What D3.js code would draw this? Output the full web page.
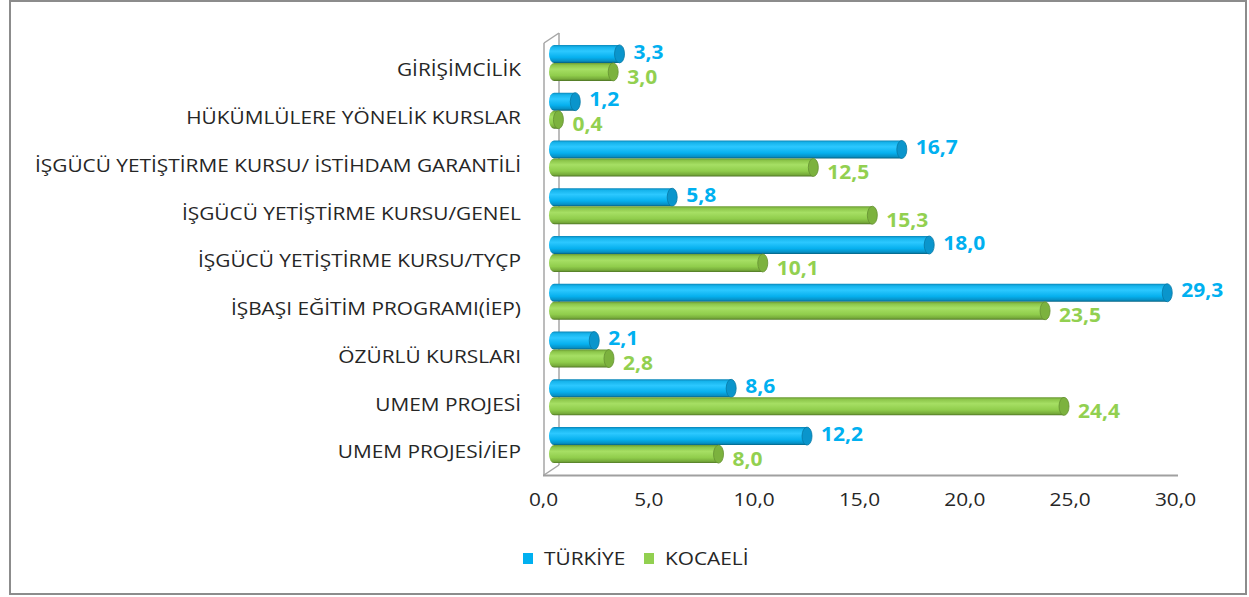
<!DOCTYPE html>
<html><head><meta charset="utf-8">
<script src="https://cdn.jsdelivr.net/npm/d3@7"></script>
<style>body{margin:0;background:#fff}svg{display:block}</style>
</head><body>
<script>
const categories = ["GİRİŞİMCİLİK","HÜKÜMLÜLERE YÖNELİK KURSLAR","İŞGÜCÜ YETİŞTİRME KURSU/ İSTİHDAM GARANTİLİ","İŞGÜCÜ YETİŞTİRME KURSU/GENEL","İŞGÜCÜ YETİŞTİRME KURSU/TYÇP","İŞBAŞI EĞİTİM PROGRAMI(İEP)","ÖZÜRLÜ KURSLARI","UMEM PROJESİ","UMEM PROJESİ/İEP"];
const turkiye = [3.3,1.2,16.7,5.8,18.0,29.3,2.1,8.6,12.2];
const kocaeli = [3.0,0.4,12.5,15.3,10.1,23.5,2.8,24.4,8.0];
const seriesNames = ["TÜRKİYE","KOCAELİ"];
const xTicks = [0,5,10,15,20,25,30];

const W=1249,H=597;
const svg=d3.select("body").append("svg").attr("width",W).attr("height",H);
const loc=d3.formatLocale({decimal:",",thousands:".",grouping:[3],currency:["",""]});
const fmt=loc.format(".1f");
const FONT="'Open Sans', sans-serif";

// border
svg.append("rect").attr("x",10).attr("y",1).attr("width",1236).attr("height",593)
  .attr("fill","#fff").attr("stroke","#8c8c8c").attr("stroke-width",2);

const x=d3.scaleLinear().domain([0,30]).range([543,1175]);
const y=d3.scaleBand().domain(categories).range([39,469]).paddingInner(0).paddingOuter(0);
const DX=7, BH=18, CAP=5;

const defs=svg.append("defs");
function grad(id,stops){
  const g=defs.append("linearGradient").attr("id",id).attr("x1",0).attr("y1",0).attr("x2",0).attr("y2",1);
  stops.forEach(s=>g.append("stop").attr("offset",s[0]).attr("stop-color",s[1]));
}
grad("gb",[[0,"#0a86b8"],[0.12,"#16b4ec"],[0.35,"#2cc8ff"],[0.7,"#06b0ee"],[0.9,"#0790c4"],[1,"#05607f"]]);
grad("gg",[[0,"#6b9a34"],[0.12,"#8cc64a"],[0.35,"#a6df64"],[0.7,"#90cd4c"],[0.9,"#76aa3a"],[1,"#4e7424"]]);

// walls
const wall=svg.append("g").attr("stroke","#a6a6a6").attr("stroke-width",1.5).attr("fill","none");
wall.append("line").attr("x1",559).attr("y1",33).attr("x2",559).attr("y2",465);
wall.append("line").attr("x1",544).attr("y1",43).attr("x2",559).attr("y2",33);
wall.append("line").attr("x1",544).attr("y1",475).attr("x2",559).attr("y2",465);
wall.append("line").attr("x1",544).attr("y1",43).attr("x2",544).attr("y2",475);
svg.append("line").attr("x1",543).attr("y1",475.5).attr("x2",1178).attr("y2",475.5)
  .attr("stroke","#a0a0a0").attr("stroke-width",2);

// bars
const series=[{vals:turkiye,fill:"url(#gb)",cap:"#0a95cc",lab:"#00b0f0",off:0,toff:-2},
              {vals:kocaeli,fill:"url(#gg)",cap:"#7cb23e",lab:"#92d050",off:BH,toff:5}];
const bars=svg.append("g");
const vlabels=[];
series.forEach(s=>{
  categories.forEach((c,i)=>{
    const v=s.vals[i];
    const y0=y(c)+y.bandwidth()/2-BH+s.off;
    const x0=x(0)+DX-1, x1=x(v)+DX;
    bars.append("path")
      .attr("d",`M${x0+CAP},${y0} L${x1},${y0} L${x1},${y0+BH} L${x0+CAP},${y0+BH} A${CAP},${BH/2} 0 0 1 ${x0+CAP},${y0} Z`)
      .attr("fill",s.fill);
    bars.append("ellipse").attr("cx",x1).attr("cy",y0+BH/2).attr("rx",CAP).attr("ry",BH/2)
      .attr("fill",s.cap).attr("stroke",d3.color(s.cap).darker(0.6)).attr("stroke-width",0.8);
    const t=bars.append("text").attr("x",x1+CAP+9).attr("y",y0+BH/2+s.toff).attr("dy","0.35em")
      .attr("fill",s.lab).attr("font-family",FONT).attr("font-weight","bold").attr("font-size",19)
      .text(fmt(v));
    vlabels.push(t);
  });
});

// category labels
const catG=svg.append("g");
const cats=categories.map(c=>catG.append("text").attr("x",521).attr("y",y(c)+y.bandwidth()/2+7)
  .attr("dy","0.35em").attr("text-anchor","end").attr("fill","#262626")
  .attr("font-family",FONT).attr("font-size",18).text(c));

// x axis
const axis=svg.append("g").attr("transform","translate(0,500)")
  .call(d3.axisBottom(x).tickValues(xTicks).tickFormat(fmt).tickSize(0).tickPadding(0));
axis.select(".domain").remove();
axis.selectAll("text").attr("font-family",FONT).attr("font-size",18).attr("fill","#262626")
  .attr("dy","0.35em").attr("y",0);

// legend
const leg=svg.append("g");
const legX=[523,644], legC=["#00b0f0","#92d050"];
const legT=[];
seriesNames.forEach((n,i)=>{
  leg.append("rect").attr("x",legX[i]).attr("y",553).attr("width",10).attr("height",11).attr("fill",legC[i]);
  legT.push(leg.append("text").attr("x",legX[i]+21).attr("y",559).attr("dy","0.35em")
    .attr("font-family",FONT).attr("font-size",18).attr("fill","#262626").text(n));
});

// horizontal stretch to match reference glyph widths
const ref=cats[2].node().getComputedTextLength();
const f1=486/ref;
function stretch(sel,f){const n=sel.node();const L=n.getComputedTextLength();sel.attr("textLength",L*f).attr("lengthAdjust","spacingAndGlyphs");}
cats.forEach(t=>stretch(t,f1));
legT.forEach(t=>stretch(t,f1));
axis.selectAll("text").each(function(){stretch(d3.select(this),f1);});
const refV=vlabels[5].node().getComputedTextLength();
const f2=42/refV;
vlabels.forEach(t=>stretch(t,f2));
</script>
</body></html>
